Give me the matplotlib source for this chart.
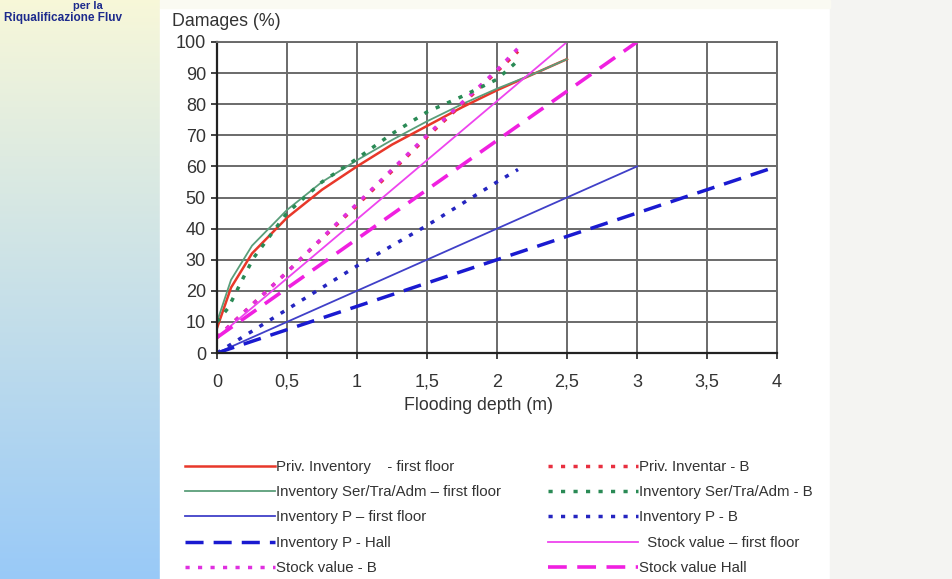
import numpy as np
import matplotlib
matplotlib.use("Agg")
import matplotlib.pyplot as plt

plt.rcParams['font.family'] = ['Liberation Sans', 'DejaVu Sans']

# ---- data ----
depth_first = [0, 0.1, 0.25, 0.5, 0.75, 1, 1.25, 1.5, 1.75, 2, 2.25, 2.5]
priv_first = [8, 21, 32, 43.5, 52.5, 60, 67, 73, 79, 84.5, 89.5, 94.5]
sertra_first = [10, 23.5, 34.5, 46, 55, 62, 68.5, 74.5, 80, 85, 89.5, 94.5]

depth_b = [0, 0.08, 0.18, 0.26, 0.5, 0.75, 1, 1.25, 1.5, 1.75, 2, 2.15]
sertra_b = [10, 14.5, 23.5, 30.5, 45, 55, 62.5, 70.5, 77.5, 82.5, 88, 94]

depth_lin_b = [0, 0.5, 1, 1.5, 2, 2.15]
priv_b = [5, 26, 47.5, 69.5, 90.5, 97]
stock_b = [5, 26, 48, 70, 91, 98]
invp_b = [0, 14, 28, 41, 55, 59]

depth_invp_first = [0, 3]
invp_first = [0, 60]
depth_invp_hall = [0, 4]
invp_hall = [0, 60]
depth_stock_first = [0, 2.5]
stock_first = [5, 100]
depth_stock_hall = [0, 3]
stock_hall = [5, 100]

xticks = [0, 0.5, 1, 1.5, 2, 2.5, 3, 3.5, 4]
xtick_labels = ["0", "0,5", "1", "1,5", "2", "2,5", "3", "3,5", "4"]
yticks = [0, 10, 20, 30, 40, 50, 60, 70, 80, 90, 100]

labels_left = ["Priv. Inventory    - first floor",
               "Inventory Ser/Tra/Adm \u2013 first floor",
               "Inventory P \u2013 first floor",
               "Inventory P - Hall",
               "Stock value - B"]
labels_right = ["Priv. Inventar - B",
                "Inventory Ser/Tra/Adm - B",
                "Inventory P - B",
                "  Stock value \u2013 first floor",
                "Stock value Hall"]

W, H = 953, 579
fig = plt.figure(figsize=(W / 100, H / 100), dpi=100)

# ---- slide background ----
bg = fig.add_axes([0, 0, 1, 1])
bg.set_xlim(0, W)
bg.set_ylim(H, 0)
bg.axis('off')
top = np.array([0.97, 0.97, 0.85])
bot = np.array([0.60, 0.79, 0.97])
t = np.linspace(0, 1, 200)[:, None, None]
grad = top * (1 - t) + bot * t
bg.imshow(grad, extent=[0, 160, H, 0], aspect='auto', zorder=0)
bg.add_patch(plt.Rectangle((160, 8), 670, H, color='white', zorder=1))
bg.add_patch(plt.Rectangle((830, 0), W - 830, H, color='#f4f4f2', zorder=1))
bg.add_patch(plt.Rectangle((160, 0), 670, 8, color='#fafaf2', zorder=1))
bg.text(88, 6, "per la", color='#1c2a8c', fontsize=8, fontweight='bold',
        ha='center', va='center', zorder=2)
bg.text(4, 18, "Riqualificazione Fluv", color='#1c2a8c', fontsize=8.5,
        fontweight='bold', ha='left', va='center', zorder=2)
bg.text(172, 22, "Damages (%)", color='#333333', fontsize=12.8,
        ha='left', va='center', zorder=2)
bg.text(479, 405, "Flooding depth (m)", color='#333333', fontsize=12.8,
        ha='center', va='center', zorder=2)

# ---- chart ----
ax = fig.add_axes([217 / W, 1 - 353 / H, 560 / W, 311 / H])
ax.set_facecolor('none')
ax.set_xlim(0, 4)
ax.set_ylim(0, 100)
ax.set_xticks(xticks)
ax.set_xticklabels(xtick_labels)
ax.set_yticks(yticks)
ax.grid(True, color='#6a6a6a', lw=1.4)
ax.set_axisbelow(True)
for s in ['top', 'right']:
    ax.spines[s].set_color('#6a6a6a')
    ax.spines[s].set_linewidth(1.4)
for s in ['left', 'bottom']:
    ax.spines[s].set_color('#222222')
    ax.spines[s].set_linewidth(1.6)
ax.tick_params(axis='x', direction='out', length=4, width=1.2, pad=11,
               labelsize=13, labelcolor='#333333', color='#222222')
ax.tick_params(axis='y', direction='out', length=4, width=1.2, pad=4,
               labelsize=13, labelcolor='#333333', color='#222222')

red = '#e8382a'
green = '#5a9e7a'
green_d = '#2a8a55'
blue = '#4040c8'
blue_d = '#1a1ad0'
mag = '#ee44ee'
mag_d = '#f020e0'

dot = (1.2, 2.4)
dash = (5.2, 2.9)

h_priv_first, = ax.plot(depth_first, priv_first, color=red, lw=1.8)
h_sertra_first, = ax.plot(depth_first, sertra_first, color=green, lw=1.3)
h_invp_first, = ax.plot(depth_invp_first, invp_first, color=blue, lw=1.3)
h_invp_hall, = ax.plot(depth_invp_hall, invp_hall, color=blue_d, lw=2.5,
                       dashes=dash)
h_priv_b, = ax.plot(depth_lin_b, priv_b, color='#e83040', lw=2.5, dashes=dot)
h_stock_b, = ax.plot(depth_lin_b, stock_b, color='#e030e0', lw=2.5, dashes=dot)
h_sertra_b, = ax.plot(depth_b, sertra_b, color=green_d, lw=2.5, dashes=dot)
h_invp_b, = ax.plot(depth_lin_b, invp_b, color='#2525c0', lw=2.5, dashes=dot)
h_stock_first, = ax.plot(depth_stock_first, stock_first, color=mag, lw=1.3)
h_stock_hall, = ax.plot(depth_stock_hall, stock_hall, color=mag_d, lw=2.6,
                        dashes=dash)

leg_kw = dict(frameon=False, fontsize=10.8, handlelength=6.0,
              handletextpad=0.05, labelspacing=0.75, borderpad=0,
              borderaxespad=0, loc='upper left', labelcolor='#333333')
leg1 = fig.legend([h_priv_first, h_sertra_first, h_invp_first, h_invp_hall,
                   h_stock_b], labels_left,
                  bbox_to_anchor=(185 / W, 1 - 460 / H), **leg_kw)
leg2 = fig.legend([h_priv_b, h_sertra_b, h_invp_b, h_stock_first,
                   h_stock_hall], labels_right,
                  bbox_to_anchor=(548 / W, 1 - 460 / H), **leg_kw)

fig.savefig("out.png", dpi=100)
